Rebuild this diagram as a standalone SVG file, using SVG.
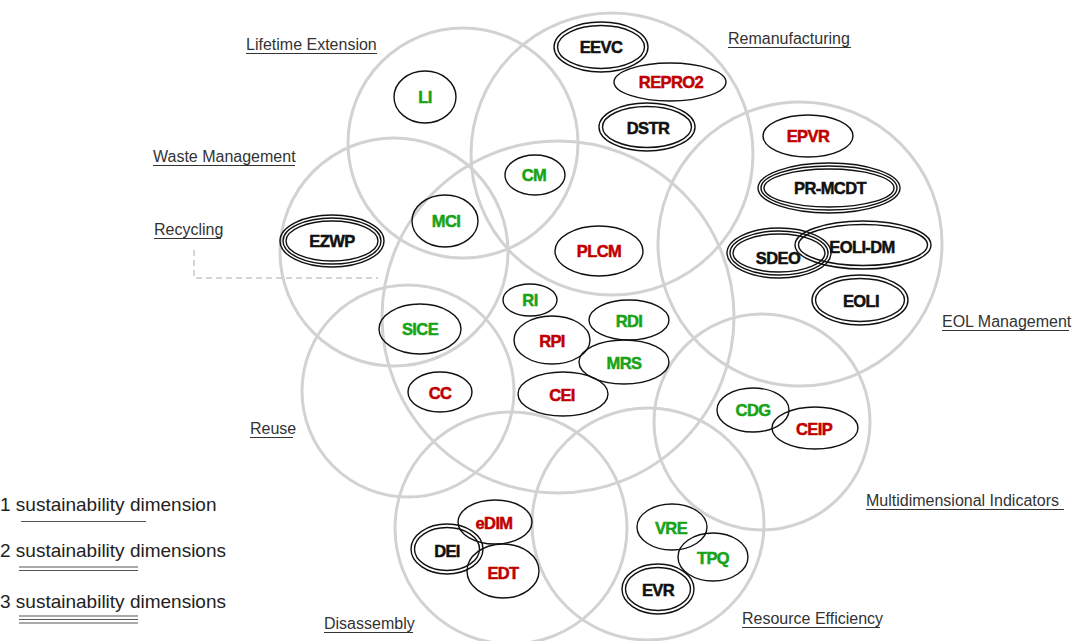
<svg xmlns="http://www.w3.org/2000/svg" width="1072" height="641" viewBox="0 0 1072 641">
  <style>
    .area { fill: none; stroke: #d2d2d2; stroke-width: 3; }
    .ring { fill: none; stroke: #111; stroke-width: 1.4; }
    .lbl { font-family: "Liberation Sans", Arial, sans-serif; font-size: 16px; fill: #333; }
    .uline { stroke: #333; stroke-width: 1.2; }
    .code { font-family: "Liberation Sans", Arial, sans-serif; font-size: 16.5px; font-weight: bold; letter-spacing: -0.6px; text-anchor: middle; stroke-width: 0.5px; }
    .g { fill: #18a318; stroke: #18a318; }
    .r { fill: #c00000; stroke: #c00000; }
    .k { fill: #111; stroke: #111; }
    .legend { font-family: "Liberation Sans", Arial, sans-serif; font-size: 19px; fill: #222; }
    .lline { stroke: #555; stroke-width: 1; }
  </style>

  <rect width="1072" height="641" fill="#fff"/>

  <!-- thematic areas -->
  <g id="areas">
    <circle class="area" cx="463" cy="143" r="115"/>
    <circle class="area" cx="612" cy="154" r="141"/>
    <circle class="area" cx="800" cy="244" r="142"/>
    <circle class="area" cx="394" cy="252" r="114"/>
    <circle class="area" cx="558" cy="317" r="176"/>
    <circle class="area" cx="408" cy="391" r="106"/>
    <circle class="area" cx="762" cy="422" r="108"/>
    <circle class="area" cx="511" cy="528" r="116"/>
    <circle class="area" cx="648" cy="524" r="116"/>
  </g>

  <!-- connectors -->
  <g id="connectors">
    <polyline points="194,250 194,278 378,278" fill="none" stroke="#c8c8c8" stroke-width="1.5" stroke-dasharray="6 4"/>
  </g>

  <!-- area labels -->
  <g id="area-labels">
    <text class="lbl" x="246" y="50">Lifetime Extension</text>
    <line class="uline" x1="246" y1="53.5" x2="377" y2="53.5"/>
    <text class="lbl" x="728" y="44">Remanufacturing</text>
    <line class="uline" x1="728" y1="47.5" x2="851" y2="47.5"/>
    <text class="lbl" x="153" y="162">Waste Management</text>
    <line class="uline" x1="153" y1="165.5" x2="295" y2="165.5"/>
    <text class="lbl" x="154" y="235">Recycling</text>
    <line class="uline" x1="154" y1="238.5" x2="221" y2="238.5"/>
    <text class="lbl" x="942" y="327">EOL Management</text>
    <line class="uline" x1="942" y1="330.5" x2="1069" y2="330.5"/>
    <text class="lbl" x="250" y="434">Reuse</text>
    <line class="uline" x1="250" y1="437.5" x2="293" y2="437.5"/>
    <text class="lbl" x="866" y="506">Multidimensional  Indicators</text>
    <line class="uline" x1="866" y1="509.5" x2="1064" y2="509.5"/>
    <text class="lbl" x="324" y="629">Disassembly</text>
    <line class="uline" x1="324" y1="632.5" x2="413" y2="632.5"/>
    <text class="lbl" x="742" y="624">Resource  Efficiency</text>
    <line class="uline" x1="742" y1="627.5" x2="880" y2="627.5"/>
  </g>

  <!-- indicator nodes -->
  <g id="EEVC">
    <ellipse class="ring" cx="601" cy="47" rx="47" ry="25"/>
    <ellipse class="ring" cx="601" cy="47" rx="43.5" ry="21.5"/>
    <text class="code k" x="601" y="53">EEVC</text>
  </g>
  <g id="REPRO2">
    <ellipse class="ring" cx="670" cy="82" rx="56" ry="19"/>
    <text class="code r" x="671" y="88">REPRO2</text>
  </g>
  <g id="DSTR">
    <ellipse class="ring" cx="647" cy="127" rx="48" ry="24"/>
    <ellipse class="ring" cx="647" cy="127" rx="44.5" ry="20.5"/>
    <text class="code k" x="648" y="134">DSTR</text>
  </g>
  <g id="LI">
    <ellipse class="ring" cx="425" cy="97" rx="31" ry="26"/>
    <text class="code g" x="425" y="103">LI</text>
  </g>
  <g id="CM">
    <ellipse class="ring" cx="535" cy="175" rx="30" ry="20"/>
    <text class="code g" x="534" y="181">CM</text>
  </g>
  <g id="MCI">
    <ellipse class="ring" cx="445" cy="221" rx="33" ry="26"/>
    <text class="code g" x="446" y="227">MCI</text>
  </g>
  <g id="EZWP">
    <ellipse class="ring" cx="332" cy="241" rx="52" ry="26"/>
    <ellipse class="ring" cx="332" cy="241" rx="49" ry="23"/>
    <ellipse class="ring" cx="332" cy="241" rx="46" ry="20"/>
    <text class="code k" x="332" y="247">EZWP</text>
  </g>
  <g id="PLCM">
    <ellipse class="ring" cx="599" cy="251" rx="44" ry="25"/>
    <text class="code r" x="599" y="257">PLCM</text>
  </g>
  <g id="EPVR">
    <ellipse class="ring" cx="808" cy="136" rx="45" ry="21"/>
    <text class="code r" x="808" y="142">EPVR</text>
  </g>
  <g id="PR-MCDT">
    <ellipse class="ring" cx="829" cy="188" rx="71" ry="25"/>
    <ellipse class="ring" cx="829" cy="188" rx="68" ry="22"/>
    <ellipse class="ring" cx="829" cy="188" rx="65" ry="19"/>
    <text class="code k" x="830" y="194">PR-MCDT</text>
  </g>
  <g id="SDEO">
    <ellipse class="ring" cx="779" cy="253" rx="52" ry="25"/>
    <ellipse class="ring" cx="779" cy="253" rx="49" ry="22"/>
    <ellipse class="ring" cx="779" cy="253" rx="46" ry="19"/>
    <text class="code k" x="778" y="264">SDEO</text>
  </g>
  <g id="EOLI-DM">
    <ellipse class="ring" cx="863" cy="245" rx="68" ry="24"/>
    <ellipse class="ring" cx="863" cy="245" rx="64.5" ry="20.5"/>
    <text class="code k" x="862" y="253">EOLI-DM</text>
  </g>
  <g id="EOLI">
    <ellipse class="ring" cx="860" cy="300" rx="48" ry="25"/>
    <ellipse class="ring" cx="860" cy="300" rx="44.5" ry="21.5"/>
    <text class="code k" x="861" y="307">EOLI</text>
  </g>
  <g id="RI">
    <ellipse class="ring" cx="530" cy="300" rx="27" ry="16"/>
    <text class="code g" x="530" y="306">RI</text>
  </g>
  <g id="SICE">
    <ellipse class="ring" cx="420" cy="329" rx="41" ry="25"/>
    <text class="code g" x="420" y="335">SICE</text>
  </g>
  <g id="RPI">
    <ellipse class="ring" cx="552" cy="340" rx="38" ry="24"/>
    <text class="code r" x="552" y="347">RPI</text>
  </g>
  <g id="RDI">
    <ellipse class="ring" cx="629" cy="320" rx="40" ry="20"/>
    <text class="code g" x="629" y="327">RDI</text>
  </g>
  <g id="MRS">
    <ellipse class="ring" cx="624" cy="362" rx="45" ry="22"/>
    <text class="code g" x="624" y="369">MRS</text>
  </g>
  <g id="CC">
    <ellipse class="ring" cx="440" cy="392" rx="32" ry="20"/>
    <text class="code r" x="440" y="399">CC</text>
  </g>
  <g id="CEI">
    <ellipse class="ring" cx="563" cy="394" rx="45" ry="22"/>
    <text class="code r" x="562" y="401">CEI</text>
  </g>
  <g id="CDG">
    <ellipse class="ring" cx="753" cy="410" rx="36" ry="22"/>
    <text class="code g" x="753" y="416">CDG</text>
  </g>
  <g id="CEIP">
    <ellipse class="ring" cx="815" cy="428" rx="43" ry="21"/>
    <text class="code r" x="814" y="435">CEIP</text>
  </g>
  <g id="eDIM">
    <ellipse class="ring" cx="495" cy="522" rx="37" ry="22"/>
    <text class="code r" x="494" y="529">eDIM</text>
  </g>
  <g id="DEI">
    <ellipse class="ring" cx="447" cy="549" rx="36" ry="25"/>
    <ellipse class="ring" cx="447" cy="549" rx="32.5" ry="21.5"/>
    <text class="code k" x="447" y="557">DEI</text>
  </g>
  <g id="EDT">
    <ellipse class="ring" cx="503" cy="571" rx="36" ry="27"/>
    <text class="code r" x="503" y="579">EDT</text>
  </g>
  <g id="VRE">
    <ellipse class="ring" cx="672" cy="527" rx="35" ry="23"/>
    <text class="code g" x="671" y="534">VRE</text>
  </g>
  <g id="TPQ">
    <ellipse class="ring" cx="713" cy="557" rx="35" ry="24"/>
    <text class="code g" x="713" y="564">TPQ</text>
  </g>
  <g id="EVR">
    <ellipse class="ring" cx="658" cy="589" rx="36" ry="25"/>
    <ellipse class="ring" cx="658" cy="589" rx="32.5" ry="21.5"/>
    <text class="code k" x="658" y="596">EVR</text>
  </g>

  <!-- legend -->
  <g id="legend">
    <text class="legend" x="0" y="511">1 sustainability dimension</text>
    <line class="lline" x1="21" y1="521.5" x2="146" y2="521.5"/>
    <text class="legend" x="0" y="557">2 sustainability dimensions</text>
    <line class="lline" x1="19" y1="567" x2="138" y2="567"/>
    <line class="lline" x1="19" y1="570.5" x2="138" y2="570.5"/>
    <text class="legend" x="0" y="608">3 sustainability dimensions</text>
    <line class="lline" x1="19" y1="616" x2="138" y2="616"/>
    <line class="lline" x1="19" y1="619.5" x2="138" y2="619.5"/>
    <line class="lline" x1="19" y1="623" x2="138" y2="623"/>
  </g>
</svg>
